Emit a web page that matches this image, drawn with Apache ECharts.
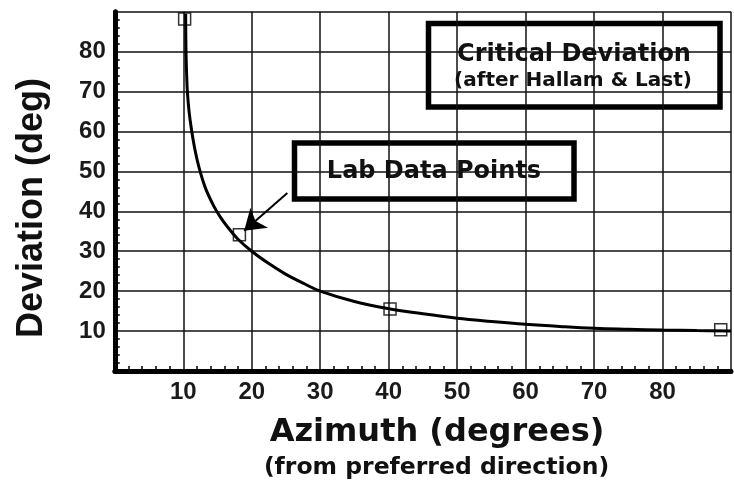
<!DOCTYPE html>
<html>
<head>
<meta charset="utf-8">
<script src="https://cdn.jsdelivr.net/npm/echarts@6/dist/echarts.min.js"></script>
<style>
  html, body { margin: 0; padding: 0; background: #fff; }
  #chart { width: 734px; height: 485px; }
</style>
</head>
<body>
<div id="chart"></div>
<script>
// Critical deviation curve (after Hallam & Last)
const curveAzimuth   = [10.35, 10.4, 10.5, 10.6, 10.85, 11.2, 11.7, 12.3, 13.2, 14.4, 15.4, 16.5, 18, 20, 22.5, 25, 27.5, 30, 35, 40, 45, 50, 55, 60, 65, 70, 75, 80, 85, 90];
const curveDeviation = [89.5, 80, 74, 70, 65, 60.5, 55.5, 51, 46, 41.5, 38.6, 36, 33, 30, 26.9, 24.2, 22, 20, 17.4, 15.6, 14.3, 13.2, 12.4, 11.7, 11.15, 10.7, 10.45, 10.25, 10.1, 10.0];

// Lab data points
const labAzimuth   = [10.2, 18.2, 40.2, 88.5];
const labDeviation = [88.2, 34.1, 15.5, 10.3];

// Axis ticks
const xTicks = [10, 20, 30, 40, 50, 60, 70, 80];
const yTicks = [10, 20, 30, 40, 50, 60, 70, 80];

// Arrow from the "Lab Data Points" note to the second lab point
const arrowFrom = [25.2, 44.6];
const arrowTo   = [18.9, 35.1];

const curveData = curveAzimuth.map((x, i) => [x, curveDeviation[i]]);
const labData = labAzimuth.map((x, i) => [x, labDeviation[i]]);

const tickFont = { fontFamily: 'Liberation Sans', fontWeight: 'bold', fontSize: 24, color: '#1a1a1a' };
const titleFont = 'DejaVu Sans';

const chart = echarts.init(document.getElementById('chart'), null, { renderer: 'canvas' });

chart.setOption({
  animation: false,
  backgroundColor: '#fff',
  grid: { left: 114.8, right: -6.3, top: 11.8, bottom: 114.1, containLabel: false },
  xAxis: [{
    type: 'value', min: 0, max: 90, interval: 10,
    axisLine: { show: true, onZero: false, lineStyle: { color: '#000', width: 5 } },
    axisTick: { show: false, inside: true },
    minorTick: { show: true, splitNumber: 5, length: 5, lineStyle: { color: '#000', width: 1.5 } },
    splitLine: { show: true, lineStyle: { color: '#111', width: 1.5 } },
    axisLabel: {
      margin: 9, ...tickFont,
      formatter: v => (xTicks.includes(v) ? String(v) : '')
    }
  }, {
    type: 'value', min: 0, max: 90, position: 'top',
    axisLine: { show: true, lineStyle: { color: '#000', width: 4 } },
    axisTick: { show: false }, axisLabel: { show: false }, splitLine: { show: false }
  }],
  yAxis: {
    type: 'value', min: 0, max: 90, interval: 10,
    axisLine: { show: true, onZero: false, lineStyle: { color: '#000', width: 5 } },
    axisTick: { show: false, inside: true },
    minorTick: { show: true, splitNumber: 5, length: 5, lineStyle: { color: '#000', width: 1.5 } },
    splitLine: { show: true, lineStyle: { color: '#111', width: 1.5 } },
    axisLabel: {
      margin: 9, ...tickFont,
      formatter: v => (yTicks.includes(v) ? String(v) : '')
    }
  },
  series: [{
    name: 'Critical Deviation',
    type: 'line',
    data: curveData,
    smooth: 0.4,
    showSymbol: false,
    lineStyle: { color: '#000', width: 3 },
    z: 3
  }, {
    name: 'Lab Data Points',
    type: 'scatter',
    data: labData,
    symbol: 'rect',
    symbolSize: 12,
    itemStyle: { color: 'rgba(0,0,0,0)', borderColor: '#000', borderWidth: 1.5 },
    z: 4,
    markLine: {
      silent: true,
      symbol: ['none', 'arrow'],
      symbolSize: 20,
      label: { show: false },
      lineStyle: { color: '#000', width: 2, type: 'solid' },
      data: [[{ coord: arrowFrom }, { coord: arrowTo }]]
    }
  }],
  graphic: [
    // Title box
    {
      type: 'group', z: 100,
      children: [
        { type: 'rect', shape: { x: 428.5, y: 23.5, width: 291.5, height: 83.5 },
          style: { fill: '#fff', stroke: '#000', lineWidth: 5.5 } },
        { type: 'text', x: 574, y: 55,
          style: { text: 'Critical Deviation', fill: '#111', font: 'bold 24px "' + titleFont + '"',
                   textAlign: 'center', textVerticalAlign: 'middle' } },
        { type: 'text', x: 573, y: 81,
          style: { text: '(after Hallam & Last)', fill: '#111', font: 'bold 20px "' + titleFont + '"',
                   textAlign: 'center', textVerticalAlign: 'middle' } }
      ]
    },
    // Lab data note box
    {
      type: 'group', z: 100,
      children: [
        { type: 'rect', shape: { x: 294.5, y: 143, width: 279.5, height: 56 },
          style: { fill: '#fff', stroke: '#000', lineWidth: 5.5 } },
        { type: 'text', x: 434, y: 172,
          style: { text: 'Lab Data Points', fill: '#111', font: 'bold 24px "' + titleFont + '"',
                   textAlign: 'center', textVerticalAlign: 'middle' } }
      ]
    },
    // Axis titles
    { type: 'text', x: 32, y: 208, rotation: Math.PI / 2, z: 100,
      style: { text: 'Deviation (deg)', fill: '#111', font: 'bold 36px "Liberation Sans"',
               textAlign: 'center', textVerticalAlign: 'middle' } },
    { type: 'text', x: 437, y: 433, z: 100,
      style: { text: 'Azimuth (degrees)', fill: '#111', font: 'bold 32px "' + titleFont + '"',
               textAlign: 'center', textVerticalAlign: 'middle' } },
    { type: 'text', x: 436.5, y: 468, z: 100,
      style: { text: '(from preferred direction)', fill: '#111', font: 'bold 23.5px "' + titleFont + '"',
               textAlign: 'center', textVerticalAlign: 'middle' } }
  ]
});
</script>
</body>
</html>
